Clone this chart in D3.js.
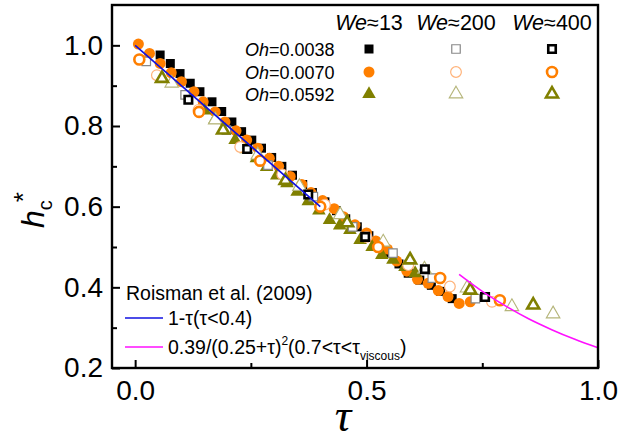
<!DOCTYPE html>
<html>
<head>
<meta charset="utf-8">
<script src="https://cdn.jsdelivr.net/npm/d3@7"></script>
<style>
  body { margin: 0; background: #fff; }
  text { font-family: "Liberation Sans", Arial, sans-serif; fill: #000; }
</style>
</head>
<body>
<script>
// tick values
const xMajor = [0.0, 0.5, 1.0];
const xMinor = [0.25, 0.75];
const yMajor = [0.2, 0.4, 0.6, 0.8, 1.0];
const yMinor = [0.3, 0.5, 0.7, 0.9];

// series: [tau, hc*]
// Oh=0.0038
const sqWe13 = [[0.054,0.976],[0.076,0.955],[0.097,0.930],[0.119,0.906],[0.140,0.885],[0.166,0.860],
  [0.187,0.836],[0.209,0.810],[0.230,0.786],[0.252,0.765],[0.273,0.745],[0.295,0.722],[0.317,0.700],
  [0.340,0.678],[0.362,0.655],[0.383,0.635],[0.410,0.612],[0.435,0.590],[0.455,0.570],[0.480,0.550],
  [0.505,0.528],[0.525,0.508],[0.548,0.485],[0.570,0.458],[0.590,0.435],[0.615,0.418],[0.640,0.405],
  [0.660,0.390],[0.685,0.372]];
const sqWe200 = [[0.024,0.960],[0.108,0.877],[0.197,0.790],[0.287,0.703],[0.385,0.625],[0.470,0.550],
  [0.557,0.485],[0.642,0.423],[0.735,0.372]];
const sqWe400 = [[0.115,0.865],[0.242,0.743],[0.374,0.630],[0.497,0.525],[0.626,0.445],[0.756,0.376]];
// Oh=0.0070
const ciWe13 = [[0.007,1.003],[0.031,0.980],[0.054,0.955],[0.078,0.932],[0.100,0.910],[0.127,0.885],
  [0.147,0.860],[0.173,0.835],[0.194,0.810],[0.218,0.788],[0.241,0.765],[0.265,0.745],[0.290,0.720],
  [0.310,0.700],[0.335,0.675],[0.360,0.655],[0.380,0.635],[0.405,0.615],[0.430,0.595],[0.450,0.575],
  [0.475,0.555],[0.500,0.535],[0.520,0.515],[0.545,0.495],[0.565,0.465],[0.587,0.440],[0.610,0.420],
  [0.633,0.410],[0.655,0.392],[0.676,0.377],[0.700,0.360],[0.724,0.364]];
const ciWe200 = [[0.047,0.926],[0.137,0.840],[0.227,0.748],[0.318,0.680],[0.410,0.605],[0.500,0.525],
  [0.590,0.455],[0.680,0.402],[0.771,0.364]];
const ciWe400 = [[0.009,0.965],[0.138,0.835],[0.270,0.714],[0.400,0.600],[0.525,0.500],[0.659,0.423],
  [0.788,0.368]];
// Oh=0.0592
const trWe13 = [[0.150,0.838],[0.172,0.815],[0.195,0.790],[0.216,0.765],[0.240,0.742],[0.262,0.720],
  [0.284,0.698],[0.306,0.677],[0.328,0.658],[0.350,0.637],[0.374,0.613],[0.397,0.590],[0.420,0.567],
  [0.442,0.553],[0.464,0.542],[0.486,0.517],[0.512,0.500],[0.533,0.480],[0.557,0.468],[0.583,0.450],
  [0.605,0.435]];
const trWe200 = [[0.079,0.906],[0.173,0.815],[0.265,0.728],[0.355,0.650],[0.443,0.580],[0.536,0.512],
  [0.625,0.445],[0.717,0.398],[0.814,0.352],[0.903,0.334]];
const trWe400 = [[0.058,0.918],[0.190,0.790],[0.325,0.665],[0.458,0.560],[0.594,0.468],[0.724,0.393],
  [0.860,0.356]];

// Roisman et al. (2009) curves
const lineEarly = [[0.0,1.0],[0.4,0.6]];
const lineLate = [[0.70,0.432],[0.75,0.390],[0.80,0.354],[0.85,0.322],[0.90,0.295],[0.95,0.271],[1.00,0.250]];

const weLabels = ["13", "200", "400"];
const ohLabels = ["0.0038", "0.0070", "0.0592"];

const W = 621, H = 443;
const x = d3.scaleLinear().domain([-0.05, 1.0]).range([112, 598]);
const y = d3.scaleLinear().domain([0.2, 1.1]).range([368, 5]);

const svg = d3.select("body").append("svg").attr("width", W).attr("height", H);

const orange = "#ff7f00", olive = "#808000";
const styles = {
  sqWe13:  {shape: d3.symbolSquare, size: 81, fill: "#000", stroke: "none", sw: 0},
  sqWe200: {shape: d3.symbolSquare, size: 72, fill: "#fff", stroke: "#888", sw: 1.2},
  sqWe400: {shape: d3.symbolSquare, size: 56, fill: "#fff", stroke: "#000", sw: 2.6},
  ciWe13:  {shape: d3.symbolCircle, size: 95, fill: orange, stroke: "none", sw: 0},
  ciWe200: {shape: d3.symbolCircle, size: 90, fill: "#fff", stroke: "#ffb37a", sw: 1.2},
  ciWe400: {shape: d3.symbolCircle, size: 78, fill: "#fff", stroke: orange, sw: 2.6},
  trWe13:  {shape: d3.symbolTriangle, size: 80, fill: olive, stroke: "none", sw: 0},
  trWe200: {shape: d3.symbolTriangle, size: 80, fill: "#fff", stroke: "#b5b57a", sw: 1.1},
  trWe400: {shape: d3.symbolTriangle, size: 62, fill: "#fff", stroke: olive, sw: 2.6}
};
const series = [
  ["sqWe13", sqWe13], ["ciWe13", ciWe13], ["trWe13", trWe13],
  ["sqWe200", sqWe200], ["ciWe200", ciWe200], ["trWe200", trWe200],
  ["sqWe400", sqWe400], ["ciWe400", ciWe400], ["trWe400", trWe400]
];

function marker(sel, st) {
  sel.attr("d", d3.symbol().type(st.shape).size(st.size)())
    .attr("fill", st.fill)
    .attr("stroke", st.stroke)
    .attr("stroke-width", st.sw);
}

// data points
series.forEach(([key, data]) => {
  svg.append("g").selectAll("path")
    .data(data)
    .enter().append("path")
      .attr("transform", d => "translate(" + x(d[0]) + "," + y(d[1]) + ")")
      .call(marker, styles[key]);
});

// model lines
const lineGen = d3.line().x(d => x(d[0])).y(d => y(d[1])).curve(d3.curveMonotoneX);
svg.append("path").datum(lineEarly).attr("d", lineGen)
  .attr("fill", "none").attr("stroke", "#1010e0").attr("stroke-width", 1.6);
svg.append("path").datum(lineLate).attr("d", lineGen)
  .attr("fill", "none").attr("stroke", "#ff10ff").attr("stroke-width", 1.6);

// axes (ticks pointing inside)
svg.append("g").attr("transform", "translate(112,0)")
  .call(d3.axisLeft(y).tickValues(yMajor).tickFormat(d3.format(".1f")).tickSize(-8).tickPadding(9));
svg.append("g").attr("transform", "translate(112,0)")
  .call(d3.axisLeft(y).tickValues(yMinor).tickFormat("").tickSize(-5));
svg.append("g").attr("transform", "translate(0,368)")
  .call(d3.axisBottom(x).tickValues(xMajor).tickFormat(d3.format(".1f")).tickSize(-8).tickPadding(12));
svg.append("g").attr("transform", "translate(0,368)")
  .call(d3.axisBottom(x).tickValues(xMinor).tickFormat("").tickSize(-5));
svg.selectAll(".domain").remove();
svg.selectAll(".tick line").attr("stroke", "#000").attr("stroke-width", 2);
svg.selectAll(".tick text").style("font-size", "28px").attr("fill", "#000");

// frame
svg.append("rect").attr("x", 112).attr("y", 5).attr("width", 486).attr("height", 363)
  .attr("fill", "none").attr("stroke", "#000").attr("stroke-width", 2.4);

// axis titles
svg.append("text").attr("x", 343).attr("y", 431).attr("text-anchor", "middle")
  .style("font-family", "'Liberation Serif', 'Times New Roman', serif")
  .style("font-style", "italic").style("font-size", "46px").text("τ");
const yt = svg.append("text").attr("transform", "translate(44,210) rotate(-90)")
  .attr("text-anchor", "middle").style("font-size", "32px");
yt.append("tspan").style("font-style", "italic").text("h");
yt.append("tspan").attr("dy", 8).style("font-size", "20px").text("c");
yt.append("tspan").attr("dy", -20).attr("dx", -2).style("font-size", "26px").text("*");

// top legend
const colX = [369, 456, 552];
const rowY = [49, 72, 94];
weLabels.forEach((w, i) => {
  const t = svg.append("text").attr("x", colX[i]).attr("y", 30).attr("text-anchor", "middle")
    .style("font-size", "21.5px");
  t.append("tspan").style("font-style", "italic").text("We");
  t.append("tspan").text("≈" + w);
});
ohLabels.forEach((o, j) => {
  const t = svg.append("text").attr("x", 245).attr("y", rowY[j] + 7).style("font-size", "18px");
  t.append("tspan").style("font-style", "italic").text("Oh");
  t.append("tspan").text("=" + o);
});
const legendKeys = [["sqWe13", "sqWe200", "sqWe400"], ["ciWe13", "ciWe200", "ciWe400"], ["trWe13", "trWe200", "trWe400"]];
legendKeys.forEach((row, j) => row.forEach((k, i) => {
  svg.append("path").attr("transform", "translate(" + colX[i] + "," + rowY[j] + ")")
    .call(marker, styles[k]);
}));

// bottom legend
svg.append("text").attr("x", 126).attr("y", 300).style("font-size", "19.5px").text("Roisman et al. (2009)");
svg.append("line").attr("x1", 125).attr("x2", 163).attr("y1", 318).attr("y2", 318)
  .attr("stroke", "#1010e0").attr("stroke-width", 1.6);
svg.append("text").attr("x", 168).attr("y", 325).style("font-size", "19.5px").text("1-τ(τ<0.4)");
svg.append("line").attr("x1", 125).attr("x2", 163).attr("y1", 347).attr("y2", 347)
  .attr("stroke", "#ff10ff").attr("stroke-width", 1.6);
const t2 = svg.append("text").attr("x", 168).attr("y", 354).style("font-size", "19.5px");
t2.append("tspan").text("0.39/(0.25+τ)");
t2.append("tspan").attr("dy", -9).style("font-size", "12px").text("2");
t2.append("tspan").attr("dy", 9).text("(0.7<τ<τ");
t2.append("tspan").attr("dy", 6).style("font-size", "12px").text("viscous");
t2.append("tspan").attr("dy", -6).text(")");
</script>
</body>
</html>
